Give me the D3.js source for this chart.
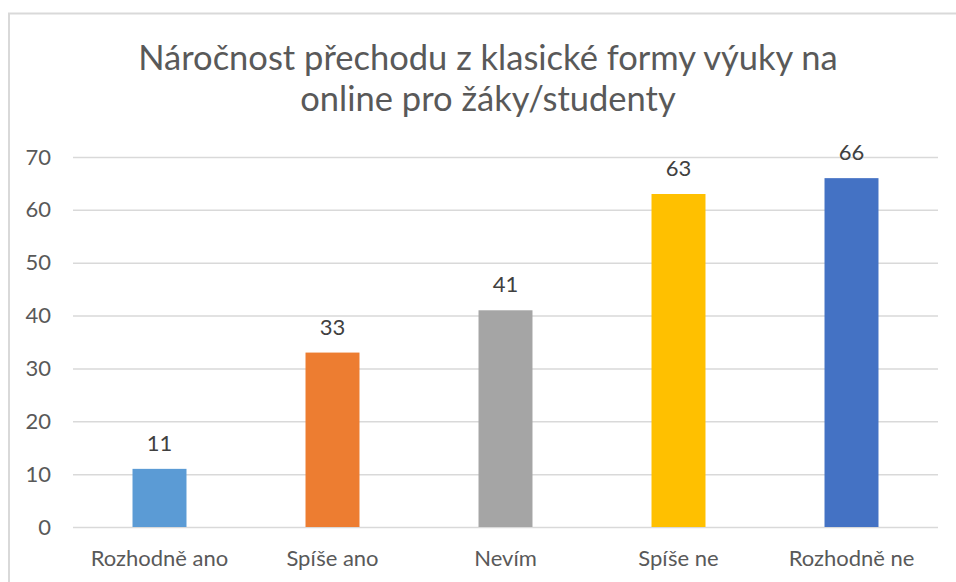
<!DOCTYPE html>
<html>
<head>
<meta charset="utf-8">
<script src="https://cdn.jsdelivr.net/npm/d3@7"></script>
<style>
  body { margin: 0; background: #fff; }
  text { font-family: Lato, "Open Sans", sans-serif; }
</style>
</head>
<body>
<div id="chart"></div>
<script>
var svgWidth = 956;
var svgHeight = 582;

var categories = ["Rozhodně ano", "Spíše ano", "Nevím", "Spíše ne", "Rozhodně ne"];
var values = [11, 33, 41, 63, 66];
var barColors = ["#5B9BD5", "#ED7D31", "#A5A5A5", "#FFC000", "#4472C4"];
var yTicks = [0, 10, 20, 30, 40, 50, 60, 70];
var titleLines = ["Náročnost přechodu z klasické formy výuky na", "online pro žáky/studenty"];

var plot = { left: 73, right: 938, top: 157, bottom: 527 };

var svg = d3.select("#chart")
  .append("svg")
  .attr("width", svgWidth)
  .attr("height", svgHeight);

// chart frame (right and bottom edges run off the picture)
svg.append("rect")
  .attr("x", 9)
  .attr("y", 13.5)
  .attr("width", 1000)
  .attr("height", 1000)
  .attr("fill", "none")
  .attr("stroke", "#d9d9d9")
  .attr("stroke-width", 2);

// title
svg.append("text")
  .attr("text-anchor", "middle")
  .attr("fill", "#595959")
  .attr("font-size", 34.5)
  .selectAll("tspan")
  .data(titleLines)
  .enter()
  .append("tspan")
  .attr("x", 488)
  .attr("y", (d, i) => 70 + i * 41)
  .text(d => d);

var x = d3.scaleBand()
  .domain(categories)
  .range([plot.left, plot.right])
  .paddingInner(0.688)
  .paddingOuter(0.344);

var y = d3.scaleLinear()
  .domain([0, 70])
  .range([plot.bottom, plot.top]);

// gridlines + y labels
var yAxis = d3.axisLeft(y)
  .tickValues(yTicks)
  .tickSize(-(plot.right - plot.left))
  .tickPadding(22);

var yG = svg.append("g")
  .attr("transform", `translate(${plot.left},0)`)
  .call(yAxis);
yG.select(".domain").remove();
yG.selectAll(".tick line")
  .attr("stroke", "#d9d9d9")
  .attr("stroke-width", 1.5);
yG.selectAll(".tick text")
  .attr("fill", "#595959")
  .attr("font-size", 22)
  .attr("font-family", "Lato, sans-serif");

// bars
svg.selectAll(".bar")
  .data(values)
  .enter()
  .append("rect")
  .attr("class", "bar")
  .attr("x", (d, i) => x(categories[i]))
  .attr("y", d => y(d))
  .attr("width", x.bandwidth())
  .attr("height", d => y(0) - y(d))
  .attr("fill", (d, i) => barColors[i]);

// data labels
svg.selectAll(".lbl")
  .data(values)
  .enter()
  .append("text")
  .attr("class", "lbl")
  .attr("x", (d, i) => x(categories[i]) + x.bandwidth() / 2)
  .attr("y", d => y(d) - 18)
  .attr("text-anchor", "middle")
  .attr("fill", "#404040")
  .attr("font-size", 22)
  .text(d => d);

// x axis labels
var xAxis = d3.axisBottom(x).tickSize(0).tickPadding(23);
var xG = svg.append("g")
  .attr("transform", `translate(0,${plot.bottom})`)
  .call(xAxis);
xG.select(".domain").remove();
xG.selectAll(".tick text")
  .attr("fill", "#595959")
  .attr("font-size", 22)
  .attr("font-family", "Lato, sans-serif");
</script>
</body>
</html>
